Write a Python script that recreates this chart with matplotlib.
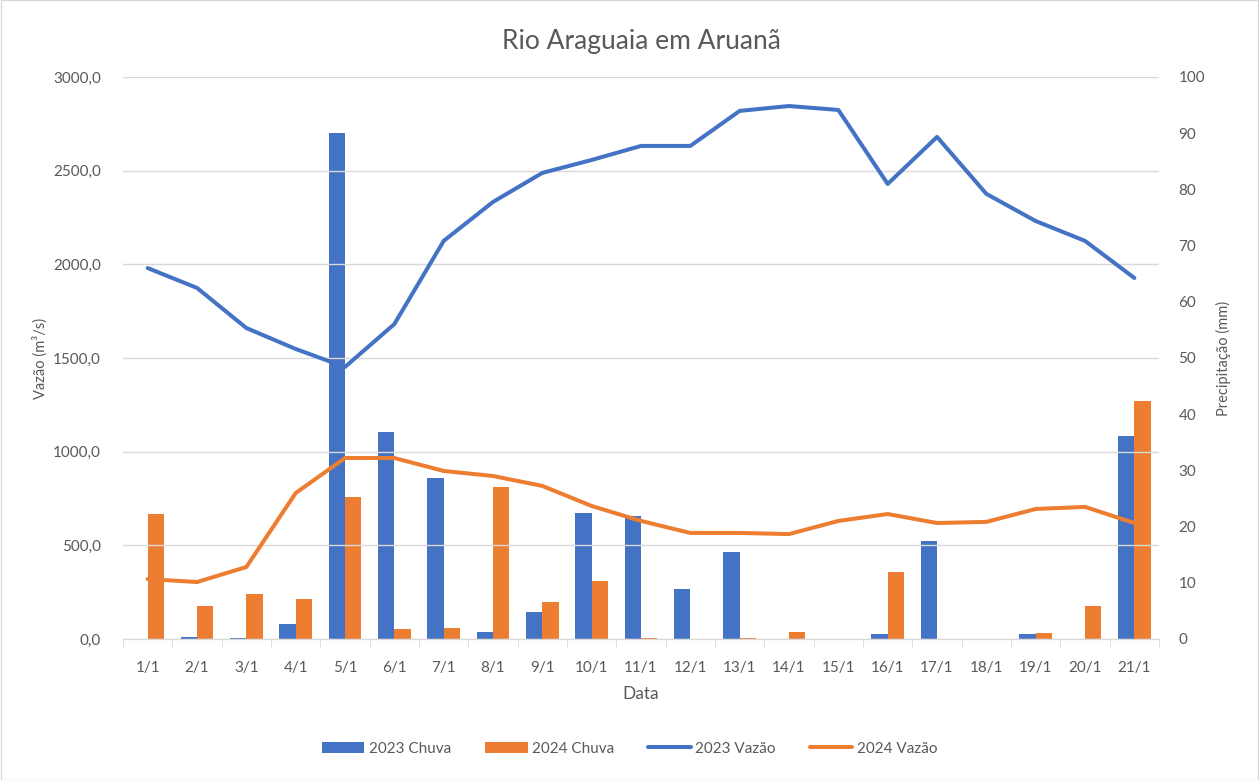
import numpy as np
import matplotlib.pyplot as plt
from matplotlib.patches import Rectangle
from matplotlib.ticker import FuncFormatter, MultipleLocator

plt.rcParams['font.family'] = ['Lato', 'DejaVu Sans']

# dados
datas = ['1/1', '2/1', '3/1', '4/1', '5/1', '6/1', '7/1', '8/1', '9/1', '10/1', '11/1',
         '12/1', '13/1', '14/1', '15/1', '16/1', '17/1', '18/1', '19/1', '20/1', '21/1']
chuva_2023 = [0, 0.3, 0.2, 2.7, 90.0, 36.8, 28.6, 1.2, 4.8, 22.4, 21.9,
              8.9, 15.5, 0, 0, 0.9, 17.4, 0, 0.9, 0, 36.1]
chuva_2024 = [22.2, 5.9, 8.0, 7.1, 25.3, 1.8, 2.0, 27.0, 6.6, 10.3, 0.2,
              0, 0.2, 1.2, 0, 11.9, 0, 0, 1.1, 5.9, 42.3]
vazao_2023 = [1980, 1874, 1660, 1548, 1452, 1681, 2125, 2333, 2488, 2557, 2632,
              2632, 2819, 2845, 2824, 2429, 2680, 2376, 2231, 2125, 1927]
vazao_2024 = [320, 304, 384, 779, 966, 966, 897, 870, 817, 710, 630,
              566, 566, 560, 630, 667, 619, 625, 694, 705, 619]

azul = '#4472C4'
laranja = '#ED7D31'
cinza = '#595959'

fig = plt.figure(figsize=(12.59, 7.80), dpi=100)
fig.patches.append(Rectangle((0.0005, 0.0005), 0.999, 0.999, transform=fig.transFigure,
                             fill=False, edgecolor='#d9d9d9', linewidth=1))
ax = fig.add_axes([0.0977, 0.1808, 0.8229, 0.7205])
axb = ax.twinx()

x = np.arange(len(datas))
w = 0.33
axb.bar(x - w / 2, chuva_2023, w, color=azul, label='2023 Chuva')
axb.bar(x + w / 2, chuva_2024, w, color=laranja, label='2024 Chuva')

ax.plot(x, vazao_2023, color=azul, lw=2.9, label='2023 Vazão', solid_capstyle='round')
ax.plot(x, vazao_2024, color=laranja, lw=2.9, label='2024 Vazão', solid_capstyle='round')

ax.set_zorder(axb.get_zorder() + 1)
ax.patch.set_visible(False)

ax.set_xlim(-0.5, len(datas) - 0.5)
ax.set_ylim(0, 3000)
axb.set_ylim(0, 100)
ax.yaxis.set_major_locator(MultipleLocator(500))
axb.yaxis.set_major_locator(MultipleLocator(10))
ax.yaxis.set_major_formatter(FuncFormatter(lambda v, p: f'{v:.1f}'.replace('.', ',')))

ax.set_xticks(x)
ax.set_xticklabels(datas)
ax.set_xticks(np.arange(-0.5, len(datas), 1), minor=True)
ax.tick_params(axis='x', which='major', length=0, pad=16, labelsize=11, labelcolor=cinza)
ax.tick_params(axis='x', which='minor', length=6, color='#d9d9d9')
ax.tick_params(axis='y', length=0, pad=16, labelsize=11, labelcolor=cinza)
axb.tick_params(axis='y', length=0, pad=14, labelsize=11, labelcolor=cinza)

ax.grid(axis='y', color='#d9d9d9', lw=1)
ax.set_axisbelow(True)
for a in (ax, axb):
    for s in ['top', 'left', 'right']:
        a.spines[s].set_visible(False)
    a.spines['bottom'].set_color('#d9d9d9')

ax.set_title('Rio Araguaia em Aruanã', fontsize=19, color=cinza, pad=20)
ax.set_xlabel('Data', fontsize=12.5, color=cinza, labelpad=8)
ax.set_ylabel('Vazão (m³/s)', fontsize=10.5, color=cinza, labelpad=4)
axb.set_ylabel('Precipitação (mm)', fontsize=10.5, color=cinza, labelpad=8)

h1, l1 = axb.get_legend_handles_labels()
h2, l2 = ax.get_legend_handles_labels()
fig.legend(h1 + h2, l1 + l2, loc='center', bbox_to_anchor=(0.5, 0.04), ncol=4,
           frameon=False, fontsize=11, labelcolor=cinza, handlelength=2.8,
           handletextpad=0.3, columnspacing=2.2)

fig.savefig('out.png', dpi=100)
